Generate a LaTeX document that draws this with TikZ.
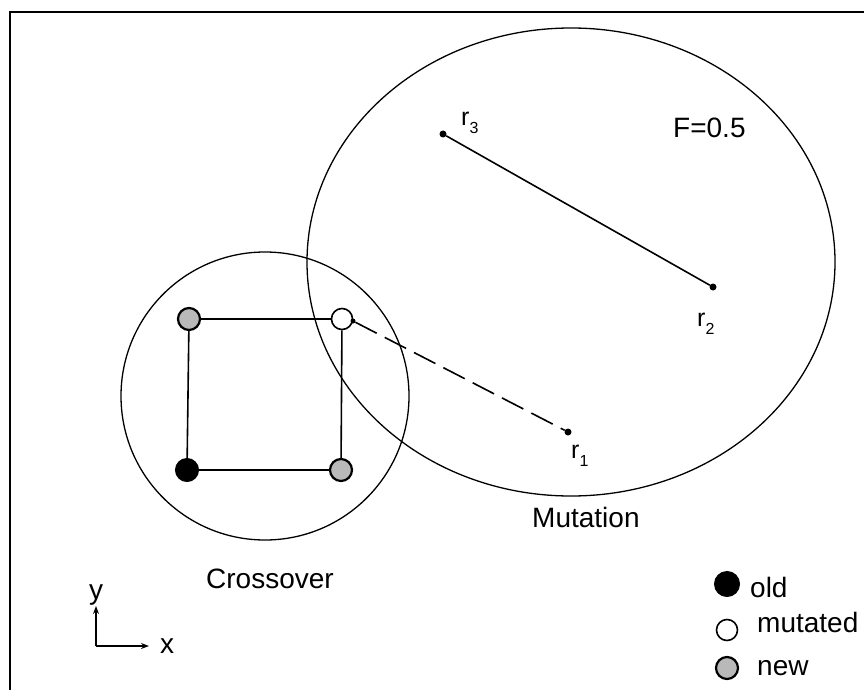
\documentclass[tikz,border=0pt]{standalone}
\usepackage{fontspec}
\setmainfont{Liberation Sans}
\usetikzlibrary{arrows.meta}
\newcommand{\rsub}[1]{r\raisebox{-0.32em}{\fontsize{16}{16}\selectfont #1}}
\begin{document}
\begin{tikzpicture}[x=1pt,y=-1pt,
  lbl/.style={inner sep=0pt, anchor=base west, font=\fontsize{28}{33}\selectfont},
  rlbl/.style={inner sep=0pt, anchor=base west, font=\fontsize{25}{30}\selectfont},
  pt/.style={circle, fill=black, inner sep=0pt, minimum size=7pt},
  olddot/.style={circle, fill=black, draw=black, line width=1pt, inner sep=0pt, minimum size=23pt},
  mutdot/.style={circle, fill=white, draw=black, line width=1.6pt, inner sep=0pt, minimum size=21pt},
  newdot/.style={circle, fill=gray!55, draw=black, line width=2.2pt, inner sep=0pt, minimum size=22pt},
  edge/.style={line width=1.6pt},
  ring/.style={line width=1.3pt},
  axis/.style={line width=1.4pt, -{Stealth[length=8pt,width=6pt]}},
]
\useasboundingbox (0,0) rectangle (864,690);
\clip (0,0) rectangle (864,690);

% outer frame
\draw[line width=1.5pt] (10,700) -- (10,12) -- (870,12);

% mutation and crossover regions
\draw[ring] (571,262) ellipse [x radius=264, y radius=234];
\draw[ring] (265,396) circle [radius=144];

% crossover square
\node[newdot] (tl) at (189,319) {};
\node[mutdot] (tr) at (342,319) {};
\node[olddot] (bl) at (187,470) {};
\node[newdot] (br) at (341,470) {};
\draw[edge] (tl) -- (tr);
\draw[edge] (tl) -- (bl);
\draw[edge] (bl) -- (br);
\draw[edge] (tr) -- (br);

% difference vector points
\node[pt] (r1) at (568,432) {};
\node[pt] (r2) at (713,287) {};
\node[pt] (r3) at (443,134) {};
\draw[edge] (r3) -- (r2);
\node[pt, minimum size=5pt] (ts) at (353,321) {};
\draw[edge, dash pattern=on 24pt off 9pt] (ts) -- (r1);

\node[rlbl] (r3l) at (461,125) {\rsub{3}};
\node[rlbl] (r2l) at (697,326) {\rsub{2}};
\node[rlbl] (r1l) at (571,458) {\rsub{1}};
\node[lbl] (F) at (673,138) {F=0.5};
\node[lbl] (mut) at (532,527) {Mutation};
\node[lbl] (cro) at (206,588) {Crossover};

% axes
\coordinate (o) at (96,646);
\coordinate (ytip) at (96,606);
\coordinate (xtip) at (149,646);
\draw[axis] (o) -- (ytip);
\draw[axis] (o) -- (xtip);
\node[lbl] (yl) at (89,599) {y};
\node[lbl] (xl) at (160,653) {x};

% legend
\node[olddot, minimum size=25pt] (lo) at (727,584) {};
\node[lbl] (lot) at (750,597) {old};
\node[mutdot] (lm) at (727,630) {};
\node[lbl] (lmt) at (757,632) {mutated};
\node[newdot] (ln) at (727,668) {};
\node[lbl] (lnt) at (757,675) {new};
\end{tikzpicture}
\end{document}
